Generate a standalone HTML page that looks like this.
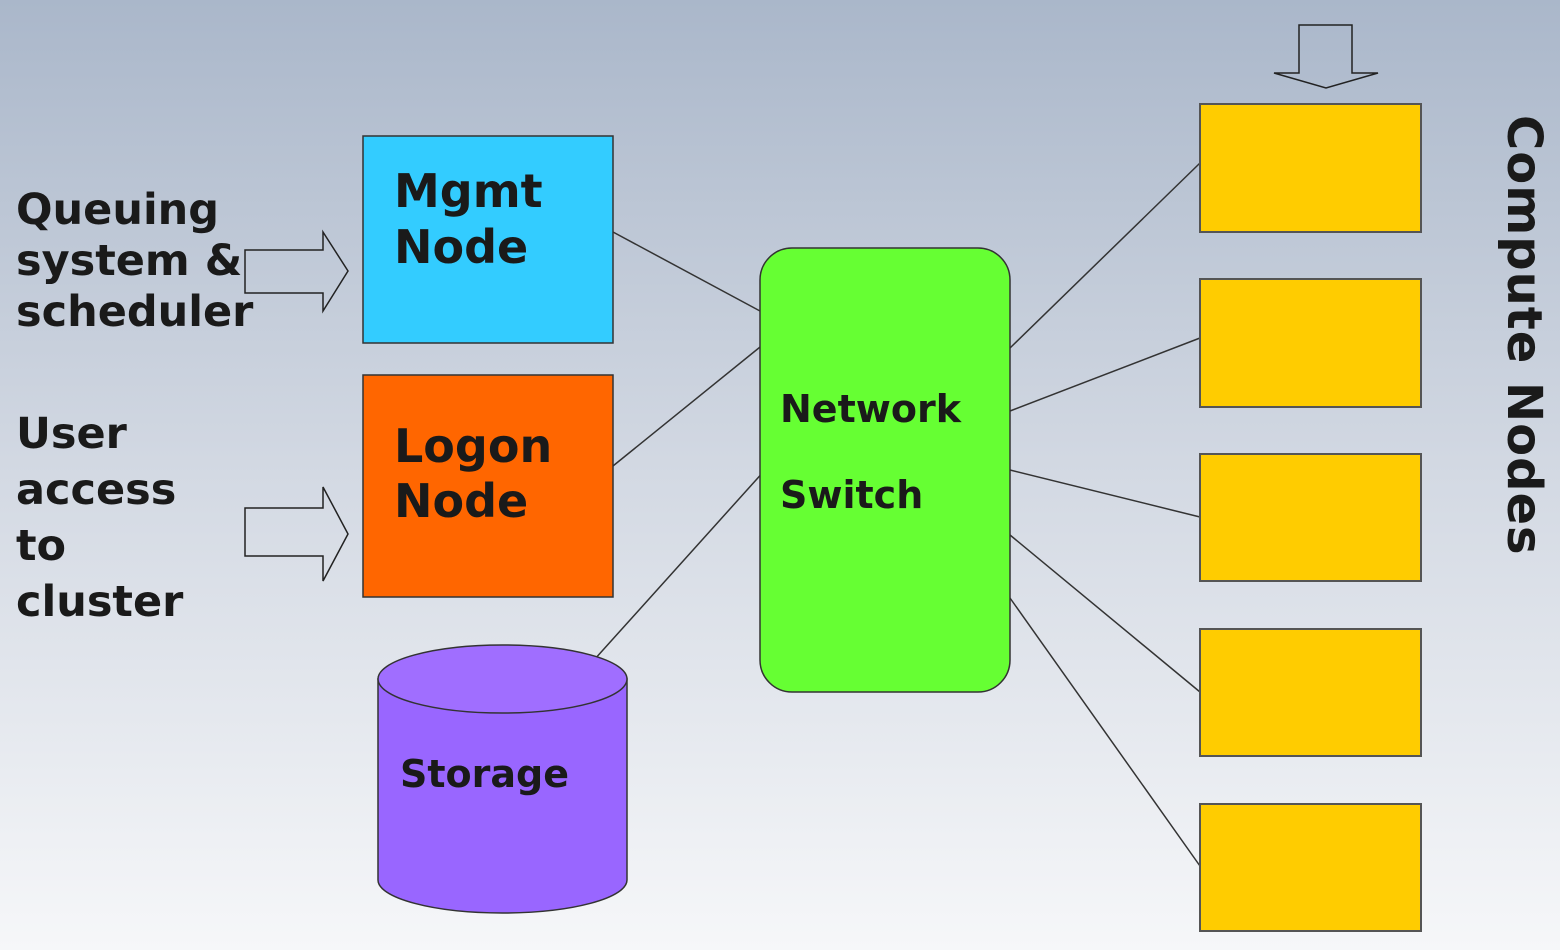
<!DOCTYPE html>
<html><head><meta charset="utf-8"><style>
html,body{margin:0;padding:0;width:1560px;height:950px;overflow:hidden}
svg{display:block}
text{font-family:"DejaVu Sans","Liberation Sans",sans-serif;font-weight:bold;fill:#1a1a1a}
</style></head><body>
<svg width="1560" height="950" viewBox="0 0 1560 950" xmlns="http://www.w3.org/2000/svg">
<defs><linearGradient id="bg" x1="0" y1="0" x2="0" y2="1">
<stop offset="0" stop-color="#aab7ca"/><stop offset="0.5" stop-color="#d3d9e3"/><stop offset="1" stop-color="#f6f7f9"/></linearGradient></defs>
<rect width="1560" height="950" fill="url(#bg)"/>
<g stroke="#333" stroke-width="1.5" fill="none">
<line x1="613" y1="232" x2="760" y2="311"/>
<line x1="608" y1="470" x2="765" y2="343"/>
<line x1="594" y1="660" x2="765" y2="470"/>
<line x1="1010" y1="348" x2="1200" y2="163"/>
<line x1="1010" y1="411" x2="1200" y2="338"/>
<line x1="1010" y1="470" x2="1200" y2="517"/>
<line x1="1010" y1="535" x2="1200" y2="692"/>
<line x1="1010" y1="598" x2="1200" y2="866"/>
</g>
<g stroke="#222" stroke-width="1.5" fill="none">
<polygon points="245,250 323,250 323,232 348,271 323,311 323,293 245,293"/>
<polygon points="245,508 323,508 323,487 348,534 323,581 323,556 245,556"/>
<polygon points="1299,25 1352,25 1352,73 1378,73 1326,88 1274,73 1299,73"/>
</g>
<rect x="363" y="136" width="250" height="207" fill="#33ccff" stroke="#333" stroke-width="1.5"/>
<rect x="363" y="375" width="250" height="222" fill="#ff6600" stroke="#333" stroke-width="1.5"/>
<rect x="760" y="248" width="250" height="444" rx="32" fill="#66ff33" stroke="#333" stroke-width="1.5"/>
<g fill="#ffcc00" stroke="#555" stroke-width="2">
<rect x="1200" y="104" width="221" height="128"/>
<rect x="1200" y="279" width="221" height="128"/>
<rect x="1200" y="454" width="221" height="127"/>
<rect x="1200" y="629" width="221" height="127"/>
<rect x="1200" y="804" width="221" height="127"/>
</g>
<path d="M378,679 L378,880 A124.5,33 0 0 0 627,880 L627,679 Z" fill="#9966ff" stroke="#333" stroke-width="1.5"/>
<ellipse cx="502.5" cy="679" rx="124.5" ry="34" fill="#a06eff" stroke="#333" stroke-width="1.5"/>
<g font-size="43">
<text x="16" y="224">Queuing</text>
<text x="16" y="275">system &amp;</text>
<text x="16" y="326">scheduler</text>
<text x="16" y="448">User</text>
<text x="16" y="504">access</text>
<text x="16" y="560">to</text>
<text x="16" y="616">cluster</text>
<text x="394" y="207" font-size="46">Mgmt</text>
<text x="394" y="263" font-size="46">Node</text>
<text x="394" y="462" font-size="46">Logon</text>
<text x="394" y="517" font-size="46">Node</text>
</g>
<text x="780" y="422" font-size="38">Network</text>
<text x="780" y="508" font-size="38">Switch</text>
<text x="400" y="787" font-size="38">Storage</text>
<text transform="translate(1508,115) rotate(90)" font-size="48" letter-spacing="1">Compute Nodes</text>
</svg>
</body></html>
